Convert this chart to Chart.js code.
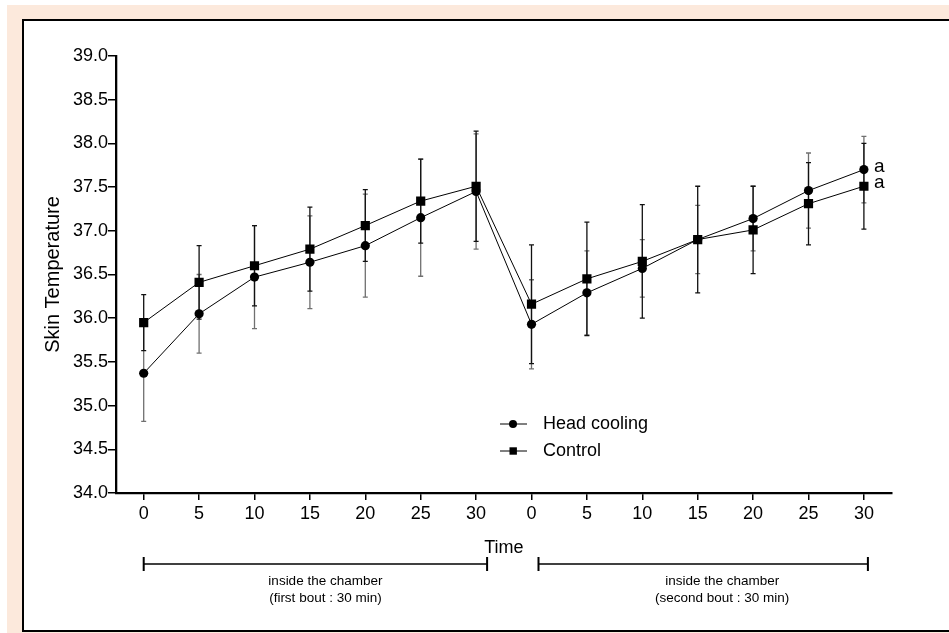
<!DOCTYPE html>
<html>
<head>
<meta charset="utf-8">
<script src="https://cdn.jsdelivr.net/npm/chart.js@4.4.1/dist/chart.umd.min.js"></script>
<style>
    html, body { margin: 0; padding: 0; background: #fff; }
    #frame { position: absolute; left: 7px; top: 5px; width: 942px; height: 628px; background: #fce9dc; }
    #panel { position: absolute; left: 22px; top: 19px; width: 927px; height: 613px; background: #fff;
             border: 2px solid #000; border-right: none; box-sizing: border-box; }
    #wrap { position: absolute; left: 0; top: 0; width: 949px; height: 633px; }
</style>
</head>
<body>
<div id="frame"></div>
<div id="panel"></div>
<div id="wrap"><canvas id="chart" width="949" height="633"></canvas></div>
<script>
// time points (min) for the two 30 min bouts
const timeLabels = ['0', '5', '10', '15', '20', '25', '30', '0', '5', '10', '15', '20', '25', '30'];

// skin temperature means and SD
const headCooling = [35.37, 36.05, 36.47, 36.64, 36.83, 37.15, 37.45, 35.93, 36.29, 36.57, 36.90, 37.14, 37.46, 37.70];
const headCoolingSD = [0.55, 0.45, 0.59, 0.53, 0.59, 0.67, 0.66, 0.51, 0.48, 0.33, 0.39, 0.37, 0.43, 0.38];
const control = [35.95, 36.41, 36.60, 36.79, 37.06, 37.34, 37.51, 36.16, 36.45, 36.65, 36.90, 37.01, 37.31, 37.51];
const controlSD = [0.32, 0.42, 0.46, 0.48, 0.41, 0.48, 0.63, 0.68, 0.65, 0.65, 0.61, 0.50, 0.47, 0.49];

const yTickValues = [34.0, 34.5, 35.0, 35.5, 36.0, 36.5, 37.0, 37.5, 38.0, 38.5, 39.0];
const endMarks = ['a', 'a'];
const boutNotes = [
    ['inside the chamber', '(first bout : 30 min)'],
    ['inside the chamber', '(second bout : 30 min)']
];

const FONT = 'Arial, "Liberation Sans", sans-serif';

// Error bars drawn under the markers
const errorBars = {
    id: 'errorBars',
    beforeDatasetsDraw(chart) {
        const ctx = chart.ctx;
        const y = chart.scales.y;
        chart.data.datasets.forEach((ds, i) => {
            const meta = chart.getDatasetMeta(i);
            ctx.save();
            ctx.strokeStyle = ds.errorColor;
            ctx.lineWidth = 1.3;
            meta.data.forEach((pt, j) => {
                const top = y.getPixelForValue(ds.data[j] + ds.errors[j]);
                const bot = y.getPixelForValue(ds.data[j] - ds.errors[j]);
                ctx.beginPath();
                ctx.moveTo(pt.x, top);
                ctx.lineTo(pt.x, bot);
                ctx.moveTo(pt.x - 2.5, top);
                ctx.lineTo(pt.x + 2.5, top);
                ctx.moveTo(pt.x - 2.5, bot);
                ctx.lineTo(pt.x + 2.5, bot);
                ctx.stroke();
            });
            ctx.restore();
        });
    }
};

// legend, "a" marks and bout brackets
const extras = {
    id: 'extras',
    afterDraw(chart) {
        const ctx = chart.ctx;
        const x = chart.scales.x;
        ctx.save();
        ctx.fillStyle = '#000';
        ctx.strokeStyle = '#000';

        // "a" next to the last points
        ctx.font = '19px ' + FONT;
        ctx.textAlign = 'left';
        ctx.textBaseline = 'middle';
        chart.data.datasets.forEach((ds, i) => {
            const meta = chart.getDatasetMeta(i);
            const last = meta.data[meta.data.length - 1];
            ctx.fillText(endMarks[i], last.x + 10, last.y - 3);
        });

        // legend
        ctx.font = '18px ' + FONT;
        chart.data.datasets.forEach((ds, i) => {
            const ly = 424 + i * 27;
            ctx.lineWidth = 1;
            ctx.beginPath();
            ctx.moveTo(500, ly);
            ctx.lineTo(527, ly);
            ctx.stroke();
            if (ds.pointStyle === 'circle') {
                ctx.beginPath();
                ctx.arc(513, ly, 4, 0, Math.PI * 2);
                ctx.fill();
            } else {
                ctx.fillRect(509.5, ly - 3.7, 7.4, 7.4);
            }
            ctx.fillText(ds.label, 543, ly);
        });

        // bout brackets
        const spans = [
            [x.getPixelForValue(0), x.getPixelForValue(6) + 11, 10],
            [x.getPixelForValue(7) + 7, x.getPixelForValue(13) + 4, 19]
        ];
        const by = 564;
        ctx.textAlign = 'center';
        ctx.font = '13.5px ' + FONT;
        spans.forEach(([x0, x1, shift], i) => {
            ctx.lineWidth = 1.6;
            ctx.beginPath();
            ctx.moveTo(x0, by);
            ctx.lineTo(x1, by);
            ctx.stroke();
            ctx.lineWidth = 2;
            ctx.beginPath();
            ctx.moveTo(x0, by - 7);
            ctx.lineTo(x0, by + 7);
            ctx.moveTo(x1, by - 7);
            ctx.lineTo(x1, by + 7);
            ctx.stroke();
            const cx = (x0 + x1) / 2 + shift;
            ctx.fillText(boutNotes[i][0], cx, 581);
            ctx.fillText(boutNotes[i][1], cx, 598);
        });
        ctx.restore();
    }
};

new Chart(document.getElementById('chart'), {
    type: 'line',
    data: {
        labels: timeLabels,
        datasets: [{
            label: 'Head cooling',
            data: headCooling,
            errors: headCoolingSD,
            errorColor: '#707070',
            borderColor: '#000',
            borderWidth: 1,
            pointStyle: 'circle',
            pointRadius: 4.6,
            pointBackgroundColor: '#000',
            pointBorderColor: '#000',
            pointBorderWidth: 0,
            tension: 0
        }, {
            label: 'Control',
            data: control,
            errors: controlSD,
            errorColor: '#111',
            borderColor: '#000',
            borderWidth: 1,
            pointStyle: 'rect',
            pointRadius: 6.5,
            pointBackgroundColor: '#000',
            pointBorderColor: '#000',
            pointBorderWidth: 0,
            tension: 0
        }]
    },
    options: {
        responsive: false,
        animation: false,
        layout: { padding: { top: 56, right: 57.4, left: 0, bottom: 0 } },
        plugins: {
            legend: { display: false },
            tooltip: { enabled: false }
        },
        scales: {
            x: {
                type: 'category',
                offset: true,
                afterFit: s => { s.height = 140; },
                grid: {
                    offset: false,
                    drawOnChartArea: false,
                    drawTicks: true,
                    tickLength: 7,
                    color: '#000',
                    lineWidth: 1.5
                },
                border: { display: true, color: '#000', width: 2.3 },
                ticks: {
                    color: '#000',
                    font: { family: FONT, size: 18 },
                    padding: 3,
                    maxRotation: 0,
                    autoSkip: false
                },
                title: {
                    display: true,
                    text: 'Time',
                    color: '#000',
                    font: { family: FONT, size: 18 },
                    padding: { top: 0, bottom: 74 }
                }
            },
            y: {
                type: 'linear',
                min: 34,
                max: 39,
                afterFit: s => { s.width = 116; },
                afterBuildTicks: s => { s.ticks = yTickValues.map(v => ({ value: v })); },
                grid: {
                    drawOnChartArea: false,
                    drawTicks: true,
                    tickLength: 8,
                    color: '#000',
                    lineWidth: 1.5
                },
                border: { display: true, color: '#000', width: 2.3 },
                ticks: {
                    color: '#000',
                    font: { family: FONT, size: 18 },
                    padding: 0,
                    callback: v => Number(v).toFixed(1)
                },
                title: {
                    display: true,
                    text: 'Skin Temperature',
                    color: '#000',
                    font: { family: FONT, size: 20 },
                    padding: { top: 41, bottom: 0 }
                }
            }
        }
    },
    plugins: [errorBars, extras]
});
</script>
</body>
</html>
